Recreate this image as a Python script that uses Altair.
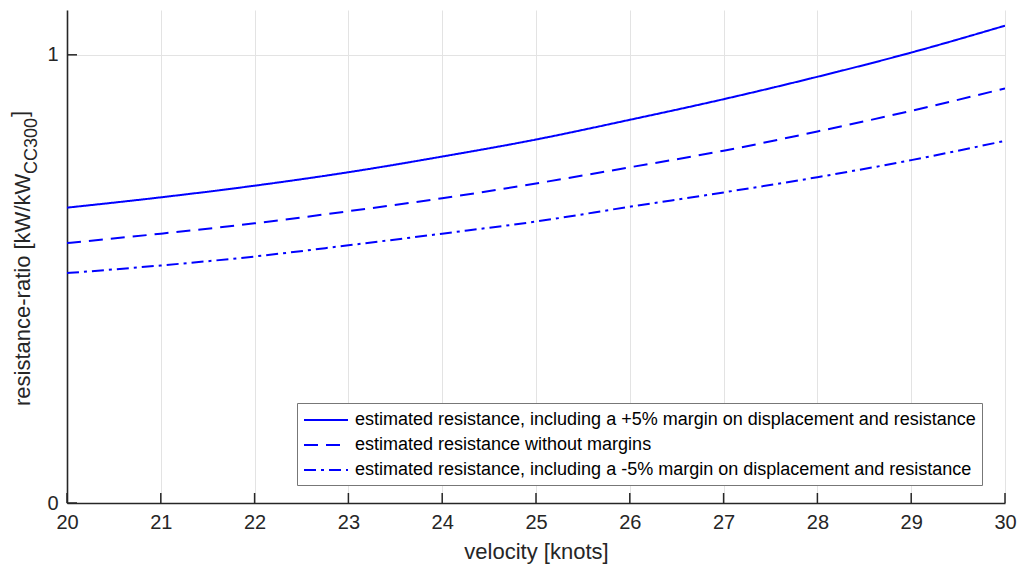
import altair as alt
import pandas as pd

# ---- data ----
velocity = [20, 21, 22, 23, 24, 25, 26, 27, 28, 29, 30]
plus5 = [0.659, 0.682, 0.708, 0.738, 0.773, 0.811, 0.855, 0.901, 0.951, 1.005, 1.065]
nominal = [0.580, 0.601, 0.624, 0.651, 0.680, 0.713, 0.749, 0.786, 0.829, 0.875, 0.925]
minus5 = [0.513, 0.530, 0.550, 0.575, 0.601, 0.628, 0.661, 0.693, 0.727, 0.765, 0.808]

labels = [
    "estimated resistance, including a +5% margin on displacement and resistance",
    "estimated resistance without margins",
    "estimated resistance, including a -5% margin on displacement and resistance",
]
x_ticks = list(range(20, 31))
y_ticks = [0, 1]
x_title = "velocity [knots]"
y_title_main = "resistance-ratio [kW/kW"
y_title_sub = "CC300"
y_title_end = "]"

rows = []
for lab, vals in zip(labels, [plus5, nominal, minus5]):
    for v, r in zip(velocity, vals):
        rows.append({"velocity": v, "ratio": r, "series": lab})
df = pd.DataFrame(rows)

FONT = "Liberation Sans"
DARK = "#262626"
W, H = 938, 493

xscale = alt.Scale(domain=[20, 30], nice=False, zero=False)
yscale = alt.Scale(domain=[0, 1.1], nice=False, zero=True)

lines = alt.Chart(df).mark_line(
    color="#0000ff", strokeWidth=2, interpolate="monotone", clip=True
).encode(
    x=alt.X("velocity:Q", scale=xscale,
            axis=alt.Axis(values=x_ticks, title=x_title, format="d", labelFlush=False)),
    y=alt.Y("ratio:Q", scale=yscale,
            axis=alt.Axis(values=y_ticks, title=None, format="d", labelFlush=False)),
    strokeDash=alt.StrokeDash(
        "series:N",
        sort=labels,
        scale=alt.Scale(domain=labels, range=[[1, 0], [14, 8], [12, 5, 3, 5]]),
        legend=alt.Legend(
            title=None, orient="none", legendX=230, legendY=393,
            symbolType="M-1,0L3.4,0", symbolSize=400, symbolStrokeWidth=2,
            symbolStrokeColor="#0000ff", labelFont=FONT, labelFontSize=18,
            labelColor="#000000", labelLimit=0, labelOffset=30,
            padding=6, rowPadding=5, strokeColor="#777777",
            fillColor="#ffffff", cornerRadius=0,
        ),
    ),
)

xt = alt.Chart(pd.DataFrame({"velocity": x_ticks})).mark_rule(
    color=DARK, strokeWidth=1.5
).encode(x=alt.X("velocity:Q", scale=xscale), y=alt.value(H), y2=alt.value(H - 10))

yt = alt.Chart(pd.DataFrame({"ratio": y_ticks})).mark_rule(
    color=DARK, strokeWidth=1.5
).encode(y=alt.Y("ratio:Q", scale=yscale), x=alt.value(0), x2=alt.value(10))

t_main = alt.Chart(pd.DataFrame({"t": [y_title_main]})).mark_text(
    angle=270, align="left", baseline="alphabetic", font=FONT, fontSize=22, color=DARK
).encode(text="t:N", x=alt.value(-37), y=alt.value(396))

t_sub = alt.Chart(pd.DataFrame({"t": [y_title_sub]})).mark_text(
    angle=270, align="left", baseline="alphabetic", font=FONT, fontSize=18, color=DARK
).encode(text="t:N", x=alt.value(-30), y=alt.value(164))

t_end = alt.Chart(pd.DataFrame({"t": [y_title_end]})).mark_text(
    angle=270, align="left", baseline="alphabetic", font=FONT, fontSize=22, color=DARK
).encode(text="t:N", x=alt.value(-40), y=alt.value(107))

chart = alt.layer(lines, xt, yt, t_main, t_sub, t_end).properties(
    width=W, height=H,
    padding={"left": 67, "top": 10, "right": 12, "bottom": 67},
    autosize=alt.AutoSizeParams(type="none"),
).configure_view(stroke=None).configure_axis(
    domainColor=DARK, domainWidth=1.6, ticks=False,
    grid=True, gridColor="#e3e3e3", gridWidth=1,
    labelFont=FONT, labelFontSize=20, labelColor=DARK, labelPadding=9,
    titleFont=FONT, titleFontSize=22, titleFontWeight="normal", titleColor=DARK,
    titlePadding=9,
)

chart.save("out.html", embed_options={"renderer": "svg", "actions": False})
